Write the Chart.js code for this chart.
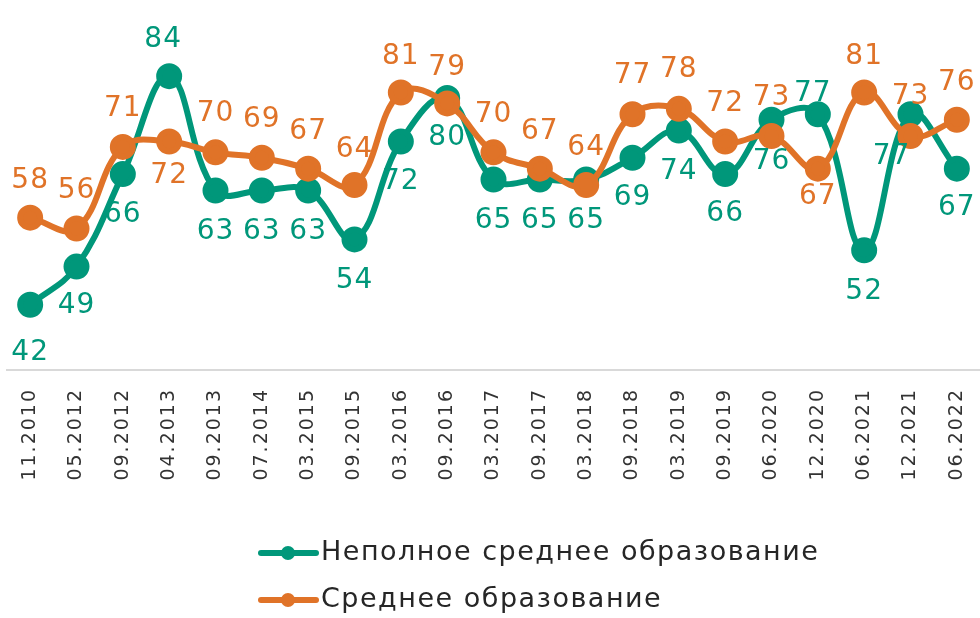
<!DOCTYPE html>
<html lang="ru">
<head>
<meta charset="UTF-8" />
<title>Образование</title>
<script src="https://cdn.jsdelivr.net/npm/chart.js@4/dist/chart.umd.min.js"></script>
<style>
    html, body { margin: 0; padding: 0; background: #fff; }
    #wrap { width: 980px; height: 618px; position: relative; }
</style>
</head>
<body>
<div id="wrap"><canvas id="chart"></canvas></div>
<script>
    // data
    const periods = ["11.2010", "05.2012", "09.2012", "04.2013", "09.2013", "07.2014", "03.2015",
        "09.2015", "03.2016", "09.2016", "03.2017", "09.2017", "03.2018", "09.2018", "03.2019",
        "09.2019", "06.2020", "12.2020", "06.2021", "12.2021", "06.2022"];
    const incompleteSecondary = [42, 49, 66, 84, 63, 63, 63, 54, 72, 80, 65, 65, 65, 69, 74, 66, 76, 77, 52, 77, 67];
    const secondary = [58, 56, 71, 72, 70, 69, 67, 64, 81, 79, 70, 67, 64, 77, 78, 72, 73, 67, 81, 73, 76];
    const seriesNames = ["Неполное среднее образование", "Среднее образование"];

    const GREEN = "#00977a";
    const ORANGE = "#e07328";
    const FONT = "'DejaVu Sans', sans-serif";

    // label offsets (px) from point: negative = above
    const greenLabelDy = [48, 39, 41, -36, 41, 41, 41, 41, 40, 40, 41, 41, 41, 40, 41, 40, 42, -21, 41, 42, 39];
    const greenLabelDx = [0, 0, 0, -6, 0, 0, 0, 0, 0, 0, 0, 0, 0, 0, 0, 0, 0, -5, 0, -19, 0];
    const orangeLabelDy = [-37, -38, -38, 34, -39, -38, -37, -35, -36, -36, -38, -37, -37, -39, -39, -38, -38, 28, -36, -39, -37];

    const valueLabels = {
        id: "valueLabels",
        afterDatasetsDraw(chart) {
            const ctx = chart.ctx;
            ctx.save();
            ctx.font = "28px " + FONT;
            ctx.letterSpacing = "1px";
            ctx.textAlign = "center";
            ctx.textBaseline = "middle";
            chart.data.datasets.forEach((ds, di) => {
                const meta = chart.getDatasetMeta(di);
                const dys = di === 0 ? greenLabelDy : orangeLabelDy;
                const dxs = di === 0 ? greenLabelDx : null;
                ctx.fillStyle = ds.borderColor;
                meta.data.forEach((pt, i) => {
                    ctx.fillText(String(ds.data[i]), pt.x + (dxs ? dxs[i] : 0), pt.y + dys[i]);
                });
            });
            ctx.restore();
        }
    };

    const lineLegend = {
        id: "lineLegend",
        afterDraw(chart) {
            const ctx = chart.ctx;
            ctx.save();
            ctx.font = "27px " + FONT;
            ctx.letterSpacing = "1.5px";
            ctx.textAlign = "left";
            ctx.textBaseline = "middle";
            chart.data.datasets.forEach((ds, i) => {
                const y = 553 + i * 47;
                ctx.strokeStyle = ds.borderColor;
                ctx.lineWidth = 6;
                ctx.lineCap = "round";
                ctx.beginPath();
                ctx.moveTo(261, y);
                ctx.lineTo(316, y);
                ctx.stroke();
                ctx.fillStyle = ds.borderColor;
                ctx.beginPath();
                ctx.arc(288, y, 7, 0, Math.PI * 2);
                ctx.fill();
                ctx.fillStyle = "#262626";
                ctx.fillText(ds.label, 321, y);
            });
            ctx.restore();
        }
    };

    const tickSpacing = {
        id: "tickSpacing",
        beforeDraw(chart) {
            chart.ctx.letterSpacing = "2px";
        }
    };

    new Chart("chart", {
        type: "line",
        data: {
            labels: periods,
            datasets: [
                {
                    label: seriesNames[0],
                    data: incompleteSecondary,
                    borderColor: GREEN,
                    backgroundColor: GREEN,
                    borderWidth: 6,
                    pointRadius: 10,
                    pointHoverRadius: 10,
                    tension: 0.4,
                    order: 1
                },
                {
                    label: seriesNames[1],
                    data: secondary,
                    borderColor: ORANGE,
                    backgroundColor: ORANGE,
                    borderWidth: 6,
                    pointRadius: 10,
                    pointHoverRadius: 10,
                    tension: 0.4,
                    order: 0
                }
            ]
        },
        options: {
            responsive: true,
            maintainAspectRatio: false,
            animation: false,
            layout: { autoPadding: false, padding: { top: 0, left: 7, right: 0, bottom: 108 } },
            plugins: {
                legend: { display: false },
                tooltip: { enabled: false }
            },
            scales: {
                x: {
                    offset: true,
                    grid: { display: false },
                    border: { color: "#d9d9d9", width: 2 },
                    ticks: {
                        minRotation: 90,
                        maxRotation: 90,
                        padding: 10,
                        color: "#333333",
                        font: { family: FONT, size: 19 }
                    },
                    afterFit(scale) {
                        scale.height = 140;
                        scale.paddingLeft = 0;
                        scale.paddingRight = 0;
                    }
                },
                y: {
                    display: false,
                    min: 30,
                    max: 98
                }
            }
        },
        plugins: [tickSpacing, valueLabels, lineLegend]
    });
</script>
</body>
</html>
